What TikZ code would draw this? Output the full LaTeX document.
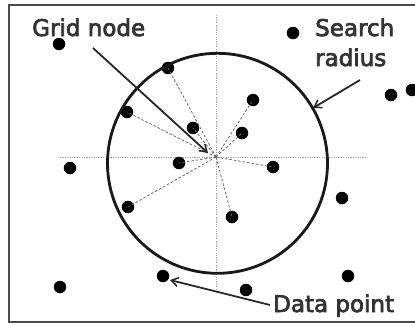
\documentclass[tikz,border=0pt]{standalone}
\usepackage{fontspec}
\setmainfont{DejaVu Sans}
\newfontfamily\lblfont[FakeBold=3]{DejaVu Sans}
\usetikzlibrary{arrows.meta}
\begin{document}
\begin{tikzpicture}[x=1pt,y=-1pt,
  dot/.style={circle,fill=black,inner sep=0pt,minimum size=12.5pt},
  ray/.style={draw=black!60,dashed,line width=0.8pt,dash pattern=on 2.5pt off 2pt},
  axis/.style={draw=black!35,line width=1pt,dash pattern=on 1.2pt off 1.2pt},
  callout/.style={draw=black!85,line width=1.8pt,-{Straight Barb[length=7pt,width=9pt,line width=1.5pt]}},
  lbl/.style={font=\lblfont\fontsize{23}{30}\selectfont,text=black!80,inner sep=0pt}]
\useasboundingbox (0,0) rectangle (415,325);
\clip (0,0) rectangle (415,325);
\fill[white] (0,0) rectangle (415,325);
\draw[black!70,line width=2pt] (9,5) rectangle (440,322);
% axes
\coordinate (gn) at (216,157);
\draw[axis] (216,15) -- (216,293);
\draw[axis] (60,157) -- (367,157);
% data points
\foreach \n/\x/\y in {p1/59/44,p2/293/33,p3/168/68,p4/253/100,p5/391/95,p6/412/90,
  p7/127/112,p8/193/128,p9/242/133,p10/70/168,p11/179/163,p12/273/167,
  p13/342/198,p14/128/207,p15/232/217,p16/60/287,p17/163/276,p18/246/290,p19/348/276}
  {\node[dot] (\n) at (\x,\y) {};}
% rays
\foreach \n in {p3,p4,p7,p8,p9,p11,p12,p14,p15}
  {\draw[ray] (gn) -- (\n.center);}
% search circle
\node[draw=black!90,line width=2.8pt,circle,minimum size=220pt,inner sep=0pt] (circ) at (217.5,163.3) {};
% labels
\node[lbl,anchor=base west] (lgn) at (32,36) {Grid node};
\node[lbl,anchor=base west] (lsr1) at (315,36) {Search};
\node[lbl,anchor=base west] (lsr2) at (315,66) {radius};
\node[lbl,anchor=base west] (ldp) at (273,312) {Data point};
\coordinate (a1) at (93,48);
\coordinate (a2) at (360,80);
\coordinate (a3) at (270,305);
\coordinate (t2) at (313,108);
\coordinate (t3) at (170,280);
\coordinate (t1) at (208,153);
\draw[callout] (a1) -- (t1);
\draw[callout] (a2) -- (t2);
\draw[callout] (a3) -- (t3);
\end{tikzpicture}
\end{document}
